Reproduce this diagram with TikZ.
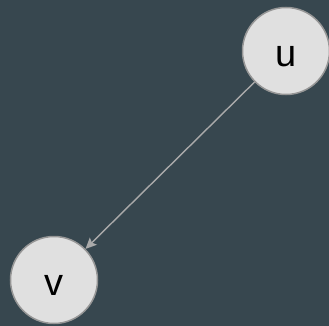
\documentclass[tikz,border=0pt]{standalone}
\usepackage{fontspec}
\setmainfont{Liberation Sans}
\usetikzlibrary{arrows.meta}
\definecolor{fundo}{RGB}{55,71,79}
\definecolor{vertice}{RGB}{224,224,224}
\definecolor{borda}{RGB}{150,150,150}
\definecolor{aresta}{RGB}{170,170,170}
\tikzset{
    vert/.style={circle, draw=borda, fill=vertice, line width=1.5pt, minimum size=87pt, inner sep=0pt, text height=31pt, text depth=0pt, font=\fontsize{38}{40}\selectfont},
    seta/.style={draw=aresta, line width=1.4pt, -{Stealth[length=11pt, width=10pt, inset=2pt]}}
}

\begin{document}
\begin{tikzpicture}[x=1pt, y=-1pt]
    \fill[fundo] (0,0) rectangle (329,326);
    \useasboundingbox (0,0) rectangle (329,326);
    \node[vert] (u) at (286,51) {u};
    \node[vert] (v) at (54,280) {v};
    \draw[seta] (u) -- (v);
\end{tikzpicture}
\end{document}
